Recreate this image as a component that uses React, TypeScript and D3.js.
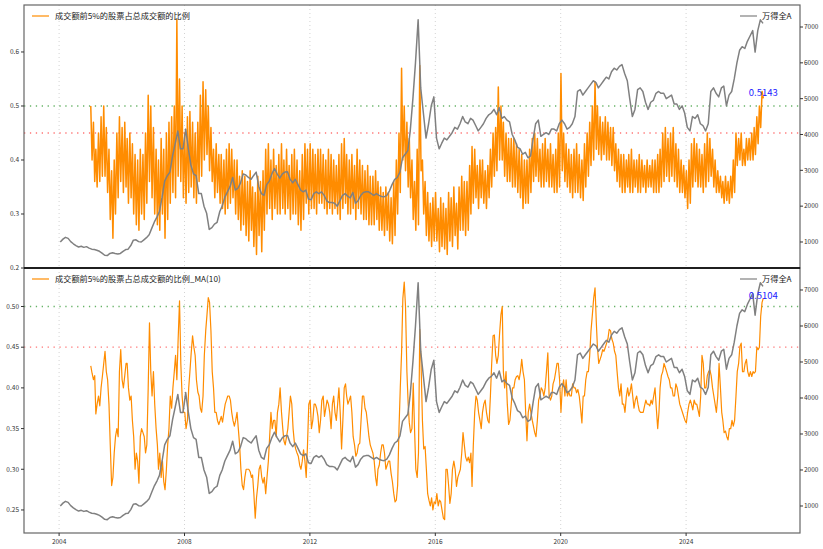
import React, { useRef, useEffect } from 'react';
import * as d3 from 'd3';

// 万得全A 月度点位，2004-01 起（每月一点）
const windAllA: number[] = [
  1000, 1080, 1130, 1100, 1010, 950, 900, 860, 880, 850, 870, 830,
  800, 790, 770, 740, 690, 630, 620, 680, 700, 680, 665, 680,
  740, 790, 800, 900, 1050, 1060, 1010, 1000, 1060, 1120, 1200, 1380,
  1560, 1700, 1850, 2250, 2700, 2850, 2950, 3400, 3750, 4100, 3600, 3600,
  4150, 3600, 3150, 2900, 2850, 2350, 2350, 2000, 1800, 1350, 1400, 1500,
  1550, 1850, 2000, 2250, 2400, 2550, 2800, 2450, 2500, 2650, 2900, 2870,
  2800, 2750, 2850, 2950, 2550, 2350, 2300, 2600, 2700, 2900, 3050, 2900,
  2780, 2900, 2950, 2960, 2750, 2650, 2750, 2600, 2450, 2400, 2450, 2200,
  2180, 2350, 2400, 2350, 2400, 2300, 2150, 2100, 2100, 2080, 2000, 2150,
  2300, 2350, 2280, 2230, 2380, 2080, 2150, 2300, 2380, 2400, 2400, 2350,
  2300, 2350, 2300, 2270, 2260, 2300, 2420, 2600, 2750, 2800, 2950, 3350,
  3450, 3550, 4100, 5000, 6000, 7200, 5300, 4600, 3900, 4300, 4800, 5050,
  3900, 3600, 3750, 3900, 3850, 3950, 4050, 4200, 4150, 4300, 4500, 4350,
  4300, 4450, 4400, 4250, 4100, 4200, 4300, 4450, 4550, 4600, 4700, 4550,
  4750, 4450, 4500, 4400, 4350, 4000, 3850, 3650, 3600, 3450, 3500, 3350,
  3400, 3900, 4300, 4400, 3950, 4000, 4050, 4000, 4150, 4150, 4100, 4300,
  4400, 4300, 4150, 4200, 4300, 4500, 5200, 5250, 5100, 5200, 5300, 5400,
  5500, 5450, 5300, 5400, 5500, 5600, 5550, 5750, 5850, 5800, 5900, 5950,
  5700, 5500, 5000, 4500, 4700, 5250, 5300, 5200, 4900, 4700, 4900, 4950,
  5150, 5200, 5150, 5150, 5000, 5050, 5100, 4850, 4850, 4700, 4800, 4600,
  4200, 4100, 4500, 4450, 4550, 4300, 4250, 4100, 4300, 5200, 5300, 5150,
  5050, 5300, 5350, 4800, 5100, 5200, 5550, 6000, 6350, 6450, 6400, 6600,
  6750, 6900, 6300, 6900, 7200, 7100,
];

// 成交额前5%的股票占总成交额的比例，2005-01 起，每月两点（上半月/下半月）
const top5Ratio: number[] = [
  .50, .40, .47, .36, .42, .35, .45, .36, .48, .37, .50, .37, .46, .34, .42, .29, .38, .255, .40, .30, .45, .33, .48, .36,
  .46, .34, .47, .35, .44, .32, .45, .33, .43, .30, .41, .28, .40, .27, .42, .30, .41, .29, .45, .32, .52, .36, .50, .33,
  .46, .30, .42, .28, .40, .27, .44, .30, .42, .255, .45, .29, .47, .32, .48, .34, .50, .33, .66, .37, .55, .36, .50, .33,
  .45, .32, .48, .34, .49, .35, .47, .33, .45, .32, .47, .36, .52, .37, .545, .40, .53, .41, .50, .38, .46, .36, .42, .33,
  .43, .34, .41, .32, .41, .31, .40, .30, .42, .31, .43, .32, .42, .33, .40, .30, .40, .29, .37, .27, .38, .28, .37, .26,
  .36, .25, .38, .27, .35, .24, .34, .225, .37, .26, .36, .23, .38, .27, .42, .30, .43, .31, .40, .29, .42, .31, .39, .30,
  .41, .30, .43, .31, .40, .30, .42, .31, .39, .29, .41, .30, .42, .30, .40, .28, .38, .27, .41, .29, .43, .32, .42, .30,
  .43, .31, .42, .31, .41, .30, .42, .32, .42, .32, .41, .31, .40, .30, .42, .31, .41, .30, .40, .31, .39, .30, .41, .29,
  .43, .31, .44, .32, .41, .30, .40, .30, .41, .31, .39, .29, .42, .31, .40, .30, .39, .29, .38, .29, .39, .28, .37, .28,
  .37, .28, .38, .29, .36, .27, .35, .27, .34, .26, .35, .27, .34, .25, .33, .245, .36, .26, .40, .30, .45, .34, .57, .40,
  .50, .38, .47, .35, .44, .33, .40, .29, .36, .27, .42, .28, .575, .38, .40, .30, .36, .26, .34, .25, .32, .24, .33, .25,
  .34, .25, .31, .23, .33, .24, .32, .235, .31, .225, .34, .25, .33, .24, .35, .26, .32, .235, .35, .27, .37, .27, .36, .26,
  .36, .27, .39, .30, .425, .32, .42, .33, .39, .31, .40, .33, .40, .32, .38, .31, .39, .33, .42, .35, .45, .37, .46, .38,
  .535, .40, .50, .40, .47, .37, .45, .36, .44, .36, .44, .35, .44, .35, .43, .34, .42, .33, .41, .31, .40, .32, .40, .32,
  .42, .34, .44, .36, .45, .37, .44, .36, .42, .35, .43, .35, .44, .36, .42, .35, .43, .35, .41, .34, .42, .34, .45, .35,
  .56, .38, .45, .36, .43, .35, .42, .34, .41, .33, .42, .34, .43, .34, .41, .33, .40, .325, .43, .35, .45, .37, .47, .39,
  .50, .40, .545, .42, .50, .41, .48, .40, .47, .41, .48, .40, .47, .40, .46, .39, .46, .38, .43, .36, .42, .35, .41, .34,
  .41, .34, .40, .35, .41, .34, .42, .34, .40, .35, .40, .34, .41, .34, .40, .35, .39, .34, .40, .35, .39, .35, .40, .34,
  .40, .34, .41, .34, .42, .35, .45, .36, .46, .37, .44, .36, .45, .37, .46, .36, .43, .35, .42, .34, .40, .34, .39, .33,
  .38, .31, .40, .32, .43, .35, .44, .36, .43, .35, .42, .35, .41, .34, .43, .35, .45, .36, .44, .37, .42, .35, .40, .34,
  .38, .34, .37, .33, .36, .32, .37, .325, .36, .32, .37, .33, .40, .34, .45, .39, .44, .40, .45, .39, .42, .39, .44, .40,
  .44, .40, .45, .40, .46, .41, .48, .43, .50, .46, .527, .5143,
];

// 比例的 MA(10)，2005-01 起，每半月一点
const top5RatioMA10: number[] = [
  .427, .418, .41, .415, .368, .38, .39, .378, .40, .414, .43, .445, .42, .41, .38, .33, .28, .29, .32, .34, .35, .34, .42, .447,
  .41, .40, .415, .43, .43, .40, .385, .39, .36, .34, .30, .32, .31, .283, .34, .35, .345, .34, .32, .33, .40, .48, .42, .39,
  .42, .38, .35, .33, .30, .32, .29, .31, .285, .275, .30, .33, .35, .39, .375, .40, .42, .44, .41, .46, .507, .43, .39, .37,
  .37, .35, .36, .40, .42, .443, .464, .45, .44, .41, .395, .39, .375, .37, .39, .44, .47, .49, .511, .505, .47, .42, .40, .37,
  .37, .36, .355, .36, .365, .358, .37, .38, .385, .39, .39, .385, .37, .36, .353, .36, .37, .35, .33, .30, .28, .275, .29, .30,
  .30, .30, .297, .29, .293, .27, .24, .265, .28, .30, .305, .29, .283, .29, .27, .29, .31, .34, .37, .35, .36, .36, .34, .37,
  .38, .40, .37, .35, .335, .33, .34, .35, .37, .39, .38, .35, .333, .325, .32, .316, .305, .30, .31, .324, .31, .29, .33, .38,
  .385, .35, .36, .38, .38, .375, .365, .345, .36, .385, .39, .365, .375, .385, .38, .37, .35, .38, .39, .37, .36, .38, .40, .37,
  .325, .36, .40, .405, .39, .38, .385, .39, .37, .34, .33, .316, .32, .33, .332, .36, .39, .39, .375, .37, .355, .34, .33, .325,
  .32, .31, .29, .28, .30, .305, .32, .33, .33, .32, .30, .305, .31, .31, .295, .285, .27, .26, .262, .28, .35, .40, .443, .51,
  .53, .50, .42, .38, .357, .345, .35, .406, .35, .30, .29, .32, .472, .43, .36, .325, .328, .30, .27, .262, .255, .265, .25, .26,
  .258, .27, .255, .262, .26, .25, .24, .238, .30, .30, .28, .258, .27, .30, .31, .30, .279, .29, .295, .30, .32, .345, .33, .315,
  .31, .315, .308, .32, .279, .33, .37, .39, .385, .37, .36, .35, .37, .38, .385, .37, .36, .357, .39, .43, .464, .465, .44, .43,
  .44, .467, .49, .50, .42, .40, .42, .38, .355, .36, .38, .40, .40, .41, .414, .415, .41, .42, .435, .42, .41, .37, .335, .37,
  .38, .37, .36, .352, .345, .34, .36, .385, .39, .40, .397, .39, .40, .42, .443, .39, .385, .39, .405, .41, .42, .43, .43, .41,
  .37, .40, .41, .39, .41, .39, .395, .39, .39, .405, .40, .40, .394, .398, .39, .375, .357, .39, .39, .41, .42, .42, .44, .47,
  .49, .51, .523, .48, .45, .43, .435, .44, .447, .445, .45, .455, .46, .472, .47, .46, .455, .445, .44, .42, .40, .39, .405, .38,
  .38, .37, .39, .40, .39, .395, .405, .39, .375, .385, .39, .38, .372, .37, .37, .37, .378, .385, .38, .38, .378, .385, .38, .39,
  .40, .375, .35, .37, .40, .415, .42, .43, .425, .42, .414, .41, .40, .40, .39, .39, .405, .40, .39, .38, .375, .37, .365, .36,
  .357, .37, .38, .385, .38, .373, .385, .38, .38, .373, .365, .39, .44, .43, .40, .40, .415, .42, .422, .415, .40, .39, .38, .37,
  .39, .43, .40, .37, .36, .345, .347, .34, .336, .35, .35, .36, .353, .36, .39, .42, .43, .451, .455, .42, .42, .43, .435, .42,
  .414, .42, .414, .42, .418, .42, .45, .447, .45, .488, .505, .5104,
];

const xTickYears = [2004, 2008, 2012, 2016, 2020, 2024];
const topRatioTicks = [0.2, 0.3, 0.4, 0.5, 0.6];
const bottomRatioTicks = [0.25, 0.3, 0.35, 0.4, 0.45, 0.5];
const indexTicks = [1000, 2000, 3000, 4000, 5000, 6000, 7000];
const thresholdHigh = 0.5;
const thresholdLow = 0.45;

const ratioLabel = '成交额前5%的股票占总成交额的比例';
const maLabel = '成交额前5%的股票占总成交额的比例_MA(10)';
const indexLabel = '万得全A';

const FONT = '"Noto Sans CJK SC", "DejaVu Sans", sans-serif';
const ORANGE = '#ff8c00';
const GRAY = '#808080';

type Pt = { date: Date; value: number };

const monthlyDate = (i: number) => new Date(2004, i, 15);
const halfMonthDate = (i: number) => new Date(2005, Math.floor(i / 2), i % 2 === 0 ? 4 : 19);

const App: React.FC = () => {
  const svgRef = useRef<SVGSVGElement>(null);

  useEffect(() => {
    const svgEl = svgRef.current;
    if (!svgEl) return;
    const svg = d3.select(svgEl);
    svg.selectAll('*').remove();

    /* ---------- Layout ---------- */
    const left = 24;
    const right = 800;

    const x = d3
      .scaleTime()
      .domain([new Date(2002, 10, 18), new Date(2027, 7, 20)])
      .range([left, right]);

    const indexPts: Pt[] = windAllA.map((v, i) => ({ date: monthlyDate(i), value: v }));

    const panels = [
      {
        top: 5,
        bottom: 268,
        ratioDomain: [0.2, 0.687],
        indexDomain: [274, 7614],
        ratioTicks: topRatioTicks,
        fmt: d3.format('.1f'),
        series: top5Ratio,
        width: 1.5,
        label: ratioLabel,
      },
      {
        top: 268,
        bottom: 533,
        ratioDomain: [0.2217, 0.5473],
        indexDomain: [250, 7611],
        ratioTicks: bottomRatioTicks,
        fmt: d3.format('.2f'),
        series: top5RatioMA10,
        width: 1.2,
        label: maLabel,
      },
    ];

    panels.forEach((p, pi) => {
      const yL = d3.scaleLinear().domain(p.ratioDomain).range([p.bottom, p.top]);
      const yR = d3.scaleLinear().domain(p.indexDomain).range([p.bottom, p.top]);
      const g = svg.append('g');

      const clipId = `clip-${pi}`;
      svg
        .append('defs')
        .append('clipPath')
        .attr('id', clipId)
        .append('rect')
        .attr('x', left)
        .attr('y', p.top)
        .attr('width', right - left)
        .attr('height', p.bottom - p.top);

      /* ---------- vertical grid ---------- */
      g.selectAll('line.vgrid')
        .data(xTickYears)
        .enter()
        .append('line')
        .attr('x1', d => x(new Date(d, 0, 1)))
        .attr('x2', d => x(new Date(d, 0, 1)))
        .attr('y1', p.top)
        .attr('y2', p.bottom)
        .attr('stroke', '#c8c8c8')
        .attr('stroke-width', 0.8)
        .attr('stroke-dasharray', '1,3');

      /* ---------- threshold lines ---------- */
      [
        { v: thresholdHigh, c: 'green', o: 0.6 },
        { v: thresholdLow, c: 'red', o: 0.55 },
      ].forEach(t => {
        g.append('line')
          .attr('x1', left)
          .attr('x2', right)
          .attr('y1', yL(t.v))
          .attr('y2', yL(t.v))
          .attr('stroke', t.c)
          .attr('stroke-opacity', t.o)
          .attr('stroke-width', 1.3)
          .attr('stroke-dasharray', '1.3,4.6');
      });

      /* ---------- ratio line ---------- */
      const ratioPts: Pt[] = p.series.map((v, i) => ({ date: halfMonthDate(i), value: v }));
      const ratioLine = d3
        .line<Pt>()
        .x(d => x(d.date))
        .y(d => yL(d.value));
      g.append('path')
        .datum(ratioPts)
        .attr('clip-path', `url(#${clipId})`)
        .attr('fill', 'none')
        .attr('stroke', ORANGE)
        .attr('stroke-width', p.width)
        .attr('stroke-linejoin', 'round')
        .attr('d', ratioLine);

      /* ---------- index line (twin axis, drawn on top) ---------- */
      const indexLine = d3
        .line<Pt>()
        .x(d => x(d.date))
        .y(d => yR(d.value));
      g.append('path')
        .datum(indexPts)
        .attr('clip-path', `url(#${clipId})`)
        .attr('fill', 'none')
        .attr('stroke', GRAY)
        .attr('stroke-width', 1.5)
        .attr('stroke-linejoin', 'round')
        .attr('d', indexLine);

      /* ---------- last value annotation ---------- */
      const last = ratioPts[ratioPts.length - 1];
      g.append('text')
        .attr('x', x(last.date))
        .attr('y', yL(last.value) - (pi === 0 ? 2 : -1))
        .attr('text-anchor', 'middle')
        .attr('fill', '#2222ff')
        .style('font-family', FONT)
        .style('font-size', '9.5px')
        .text(d3.format('.4f')(last.value));

      /* ---------- frame ---------- */
      g.append('rect')
        .attr('x', left)
        .attr('y', p.top)
        .attr('width', right - left)
        .attr('height', p.bottom - p.top)
        .attr('fill', 'none')
        .attr('stroke', '#666666')
        .attr('stroke-width', 1.2);

      /* ---------- left ticks ---------- */
      const lt = g.selectAll('g.lt').data(p.ratioTicks).enter().append('g');
      lt.append('line')
        .attr('x1', left - 3)
        .attr('x2', left)
        .attr('y1', d => yL(d))
        .attr('y2', d => yL(d))
        .attr('stroke', '#333');
      lt.append('text')
        .attr('x', left - 5)
        .attr('y', d => yL(d))
        .attr('dy', '0.35em')
        .attr('text-anchor', 'end')
        .attr('fill', '#333')
        .style('font-family', FONT)
        .style('font-size', '6.5px')
        .text(d => p.fmt(d));

      /* ---------- right ticks ---------- */
      const rt = g.selectAll('g.rt').data(indexTicks).enter().append('g');
      rt.append('line')
        .attr('x1', right)
        .attr('x2', right + 3)
        .attr('y1', d => yR(d))
        .attr('y2', d => yR(d))
        .attr('stroke', '#333');
      rt.append('text')
        .attr('x', right + 4)
        .attr('y', d => yR(d))
        .attr('dy', '0.35em')
        .attr('fill', '#333')
        .style('font-family', FONT)
        .style('font-size', '6.5px')
        .text(d => String(d));

      /* ---------- legends ---------- */
      const legY = p.top + 11;
      g.append('line')
        .attr('x1', 32)
        .attr('x2', 49)
        .attr('y1', legY)
        .attr('y2', legY)
        .attr('stroke', ORANGE)
        .attr('stroke-width', 1.2);
      g.append('text')
        .attr('x', 55)
        .attr('y', legY)
        .attr('dy', '0.35em')
        .attr('fill', '#222')
        .style('font-family', FONT)
        .style('font-size', '8.2px')
        .text(p.label);

      g.append('line')
        .attr('x1', 740)
        .attr('x2', 757)
        .attr('y1', legY)
        .attr('y2', legY)
        .attr('stroke', GRAY)
        .attr('stroke-width', 1.2);
      g.append('text')
        .attr('x', 762)
        .attr('y', legY)
        .attr('dy', '0.35em')
        .attr('fill', '#222')
        .style('font-family', FONT)
        .style('font-size', '8.2px')
        .text(indexLabel);
    });

    /* ---------- divider between panels ---------- */
    svg
      .append('line')
      .attr('x1', left)
      .attr('x2', right)
      .attr('y1', 268)
      .attr('y2', 268)
      .attr('stroke', '#000')
      .attr('stroke-width', 1.4);

    /* ---------- bottom x axis ---------- */
    const xt = svg.append('g').selectAll('g').data(xTickYears).enter().append('g');
    xt.append('line')
      .attr('x1', d => x(new Date(d, 0, 1)))
      .attr('x2', d => x(new Date(d, 0, 1)))
      .attr('y1', 533)
      .attr('y2', 536)
      .attr('stroke', '#333');
    xt.append('text')
      .attr('x', d => x(new Date(d, 0, 1)))
      .attr('y', 542)
      .attr('dy', '0.35em')
      .attr('text-anchor', 'middle')
      .attr('fill', '#333')
      .style('font-family', FONT)
      .style('font-size', '6.5px')
      .text(d => String(d));
  }, []);

  return (
    <svg
      ref={svgRef}
      width={823}
      height={549}
      style={{ position: 'absolute', left: 0, top: 0, background: '#ffffff' }}
    />
  );
};

export default App;
